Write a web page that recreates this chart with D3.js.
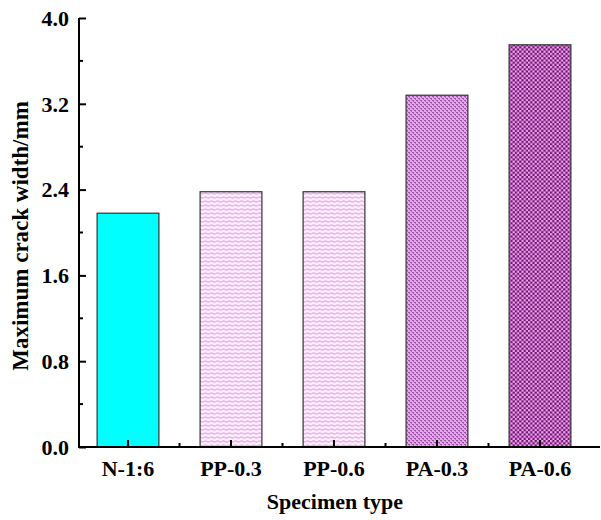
<!DOCTYPE html>
<html>
<head>
<meta charset="utf-8">
<script src="https://cdn.jsdelivr.net/npm/d3@7"></script>
<style>
  body { margin: 0; background: #fff; }
  text { font-family: "Liberation Serif", "Times New Roman", serif; font-weight: bold; }
</style>
</head>
<body>
<div id="chart"></div>
<script>
var categories = ["N-1:6", "PP-0.3", "PP-0.6", "PA-0.3", "PA-0.6"];
var crackWidth = [2.18, 2.38, 2.38, 3.28, 3.75];
var yTicks = [0.0, 0.8, 1.6, 2.4, 3.2, 4.0];
var fills = ["#00ffff", "url(#ppStripe)", "url(#ppStripe)", "url(#paMesh)", "url(#paCheck)"];

var width = 601, height = 520;
var plotLeft = 79, plotRight = 600, plotTop = 18, plotBottom = 447;

var svg = d3.select("#chart").append("svg")
    .attr("width", width)
    .attr("height", height);

// fill patterns like the Origin ones
var defs = svg.append("defs");

var pp = defs.append("pattern").attr("id", "ppStripe")
    .attr("patternUnits", "userSpaceOnUse").attr("width", 6).attr("height", 4);
pp.append("rect").attr("width", 6).attr("height", 4).attr("fill", "#fdf0fd");
pp.append("path").attr("d", "M0 1.5 Q1.5 0.5 3 1.5 T6 1.5")
    .attr("fill", "none").attr("stroke", "#eea8ee").attr("stroke-width", 1.4);

var pm = defs.append("pattern").attr("id", "paMesh")
    .attr("patternUnits", "userSpaceOnUse").attr("width", 4).attr("height", 4);
pm.append("rect").attr("width", 4).attr("height", 4).attr("fill", "#e2a8ea");
pm.append("rect").attr("x", 0).attr("y", 0).attr("width", 2).attr("height", 1).attr("fill", "#9c50a6");
pm.append("rect").attr("x", 2).attr("y", 2).attr("width", 2).attr("height", 1).attr("fill", "#9c50a6");
pm.append("rect").attr("x", 1).attr("y", 1).attr("width", 1).attr("height", 1).attr("fill", "#b470bc");
pm.append("rect").attr("x", 3).attr("y", 3).attr("width", 1).attr("height", 1).attr("fill", "#b470bc");

var pc = defs.append("pattern").attr("id", "paCheck")
    .attr("patternUnits", "userSpaceOnUse").attr("width", 4.4).attr("height", 4.4);
pc.append("rect").attr("width", 4.4).attr("height", 4.4).attr("fill", "#741074");
pc.append("rect").attr("x", 0).attr("y", 0).attr("width", 2.2).attr("height", 2.2).attr("fill", "#eaa8ea");
pc.append("rect").attr("x", 2.2).attr("y", 2.2).attr("width", 2.2).attr("height", 2.2).attr("fill", "#eaa8ea");

var x = d3.scaleBand()
    .domain(categories)
    .range([76.5, 591.5])
    .paddingInner(0.4)
    .paddingOuter(0.2);

var y = d3.scaleLinear().domain([0, 4]).range([plotBottom, plotTop]);

// bars
svg.selectAll(".bar")
    .data(categories)
    .enter().append("rect")
    .attr("class", "bar")
    .attr("x", function(d) { return x(d); })
    .attr("width", x.bandwidth())
    .attr("y", function(d, i) { return y(crackWidth[i]); })
    .attr("height", function(d, i) { return plotBottom - y(crackWidth[i]); })
    .attr("fill", function(d, i) { return fills[i]; })
    .attr("stroke", "#333")
    .attr("stroke-width", 1.2);

// y axis, ticks inward
var yAxis = d3.axisRight(y).tickValues(yTicks).tickSize(7).tickFormat("");
var gy = svg.append("g").attr("transform", "translate(" + plotLeft + ",0)").call(yAxis);
gy.select(".domain").remove();
gy.selectAll(".tick line").attr("stroke", "#000").attr("stroke-width", 2);

var minorY = d3.range(0.4, 4, 0.8);
svg.selectAll(".yminor")
    .data(minorY)
    .enter().append("line")
    .attr("x1", plotLeft).attr("x2", plotLeft + 4)
    .attr("y1", function(d) { return y(d); })
    .attr("y2", function(d) { return y(d); })
    .attr("stroke", "#000").attr("stroke-width", 2);

svg.selectAll(".ylabel")
    .data(yTicks)
    .enter().append("text")
    .attr("x", plotLeft - 10)
    .attr("y", function(d) { return y(d); })
    .attr("dy", "0.35em")
    .attr("text-anchor", "end")
    .style("font-size", "22px")
    .text(function(d) { return d.toFixed(1); });

svg.append("line")
    .attr("x1", plotLeft).attr("x2", plotLeft)
    .attr("y1", plotTop).attr("y2", plotBottom)
    .attr("stroke", "#000").attr("stroke-width", 2);

// x axis, ticks inward
var xAxis = d3.axisTop(x).tickSize(7).tickFormat("");
var gx = svg.append("g").attr("transform", "translate(0," + plotBottom + ")").call(xAxis);
gx.select(".domain").remove();
gx.selectAll(".tick line").attr("stroke", "#000").attr("stroke-width", 2);

var minorX = categories.slice(1).map(function(d) { return x(d) - x.step() * x.paddingInner() / 2; });
svg.selectAll(".xminor")
    .data(minorX)
    .enter().append("line")
    .attr("x1", function(d) { return d; })
    .attr("x2", function(d) { return d; })
    .attr("y1", plotBottom).attr("y2", plotBottom - 4)
    .attr("stroke", "#000").attr("stroke-width", 2);

svg.selectAll(".xlabel")
    .data(categories)
    .enter().append("text")
    .attr("x", function(d) { return x(d) + x.bandwidth() / 2; })
    .attr("y", plotBottom + 29)
    .attr("text-anchor", "middle")
    .style("font-size", "22px")
    .text(function(d) { return d; });

svg.append("line")
    .attr("x1", plotLeft - 1).attr("x2", plotRight)
    .attr("y1", plotBottom).attr("y2", plotBottom)
    .attr("stroke", "#000").attr("stroke-width", 2);

// axis titles
svg.append("text")
    .attr("x", 335)
    .attr("y", 509)
    .attr("text-anchor", "middle")
    .style("font-size", "22px")
    .text("Specimen type");

svg.append("text")
    .attr("transform", "translate(28," + 236 + ") rotate(-90)")
    .attr("text-anchor", "middle")
    .style("font-size", "23px")
    .text("Maximum crack width/mm");
</script>
</body>
</html>
